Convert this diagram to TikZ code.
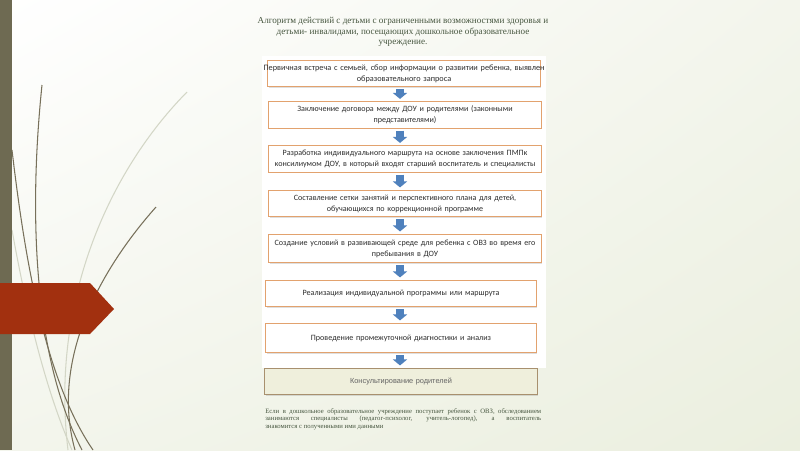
\documentclass[tikz,border=0pt]{standalone}
\usepackage{fontspec}
\setmainfont{Liberation Serif}
\newfontfamily\boxfont{Carlito}
\newfontfamily\consfont{Liberation Sans}
\usetikzlibrary{arrows.meta,shadows,shadings}
\definecolor{bgmid}{HTML}{F3F5EC}
\definecolor{bgend}{HTML}{EBEFDF}
\definecolor{barbrown}{HTML}{6E6A52}
\definecolor{tabred}{HTML}{A2300F}
\definecolor{stemdark}{HTML}{77705A}
\definecolor{stemlight}{HTML}{D3D6C6}
\definecolor{headtext}{HTML}{46563F}
\definecolor{boxline}{HTML}{E2A26E}
\definecolor{boxtext}{HTML}{2E2E2E}
\definecolor{arrowblue}{HTML}{4F81BD}
\definecolor{consfill}{HTML}{EFEFDC}
\definecolor{consline}{HTML}{A8906E}
\begin{document}
\begin{tikzpicture}[x=0.02cm,y=-0.02cm,
  box/.style={draw=boxline,fill=white,line width=0.6pt,align=center,text=boxtext,
    font=\boxfont\fontsize{4.6}{6.2}\selectfont,text width=158pt,
    minimum height=15.3pt,inner xsep=-1.5pt,inner ysep=1pt,
    drop shadow={shadow xshift=0.5pt,shadow yshift=-0.5pt,opacity=0.25}},
  consbox/.style={box,fill=consfill,draw=consline,text=boxtext!75,
    font=\consfont\fontsize{4.2}{5}\selectfont},
  flow/.style={draw=arrowblue,line width=4.4pt,
    -{Triangle[width=8pt,length=3.4pt]},shorten <=1pt,shorten >=1.2pt},
  stem/.style={draw=stemdark,line width=0.6pt},
  faint/.style={draw=stemlight,line width=0.6pt},
  headline/.style={align=center,text=headtext,font=\fontsize{5.2}{6}\selectfont},
  remark/.style={align=justify,text=headtext,text width=157pt,inner sep=0pt,
    font=\fontsize{3.8}{4.3}\selectfont}]
\useasboundingbox (0,0) rectangle (800,450);
\shade[upper left=white,upper right=bgmid,lower left=bgmid,lower right=bgend]
  (0,0) rectangle (800,450);
\draw[faint] (187,92) .. controls (110,170) and (50,300) .. (68,450);
\draw[faint] (12,230) .. controls (30,330) and (50,400) .. (72,450);
\draw[stem] (42,85) .. controls (28,220) and (35,360) .. (82,450);
\draw[stem] (12,150) .. controls (25,260) and (45,380) .. (93,450);
\draw[stem] (156,207) .. controls (100,270) and (50,360) .. (75,450);
\fill[barbrown] (0,0) rectangle (12,450);
\fill[tabred] (0,283) -- (90,283) -- (114,309) -- (90,334) -- (0,334) -- cycle;
\node[headline] (head) at (403,32) {Алгоритм действий с детьми с ограниченными возможностями здоровья и\\
  детьми- инвалидами, посещающих дошкольное образовательное\\учреждение.};
\fill[white] (262,56) rectangle (546,368);
\node[box,text width=168pt,inner xsep=-6.5pt,font=\boxfont\fontsize{4.7}{6.2}\selectfont] (b1) at (404,73.5) {Первичная встреча с семьей, сбор информации о развитии ребенка, выявлен\\
  образовательного запроса};
\node[box] (b2) at (405,115) {Заключение договора между ДОУ и родителями (законными\\представителями)};
\node[box] (b3) at (405,159) {Разработка индивидуального маршрута на основе заключения ПМПк\\
  консилиумом ДОУ, в который входят старший воспитатель и специалисты};
\node[box] (b4) at (405,203.5) {Составление сетки занятий и перспективного плана для детей,\\
  обучающихся по коррекционной программе};
\node[box,minimum height=16.4pt] (b5) at (405,248.5) {Создание условий в развивающей среде для ребенка с ОВЗ во время его\\
  пребывания в ДОУ};
\node[box,inner xsep=-2pt] (b6) at (401,293.5) {Реализация индивидуальной программы или маршрута};
\node[box,inner xsep=-2pt,minimum height=17pt] (b7) at (401,338) {Проведение промежуточной диагностики и анализ};
\node[consbox] (b8) at (401,381.5) {Консультирование родителей};
\coordinate (ax) at (400,0);
\draw[flow] (b1.south -| ax) -- (b2.north -| ax);
\draw[flow] (b2.south -| ax) -- (b3.north -| ax);
\draw[flow] (b3.south -| ax) -- (b4.north -| ax);
\draw[flow] (b4.south -| ax) -- (b5.north -| ax);
\draw[flow] (b5.south -| ax) -- (b6.north -| ax);
\draw[flow] (b6.south -| ax) -- (b7.north -| ax);
\draw[flow] (b7.south -| ax) -- (b8.north -| ax);
\node[remark,anchor=north west] (note) at (265,408) {Если в дошкольное образовательное учреждение поступает ребенок с ОВЗ, обследованием\linebreak
  занимаются специалисты (педагог-психолог, учитель-логопед), а воспитатель\linebreak
  знакомится с полученными ими данными};
\end{tikzpicture}
\end{document}
